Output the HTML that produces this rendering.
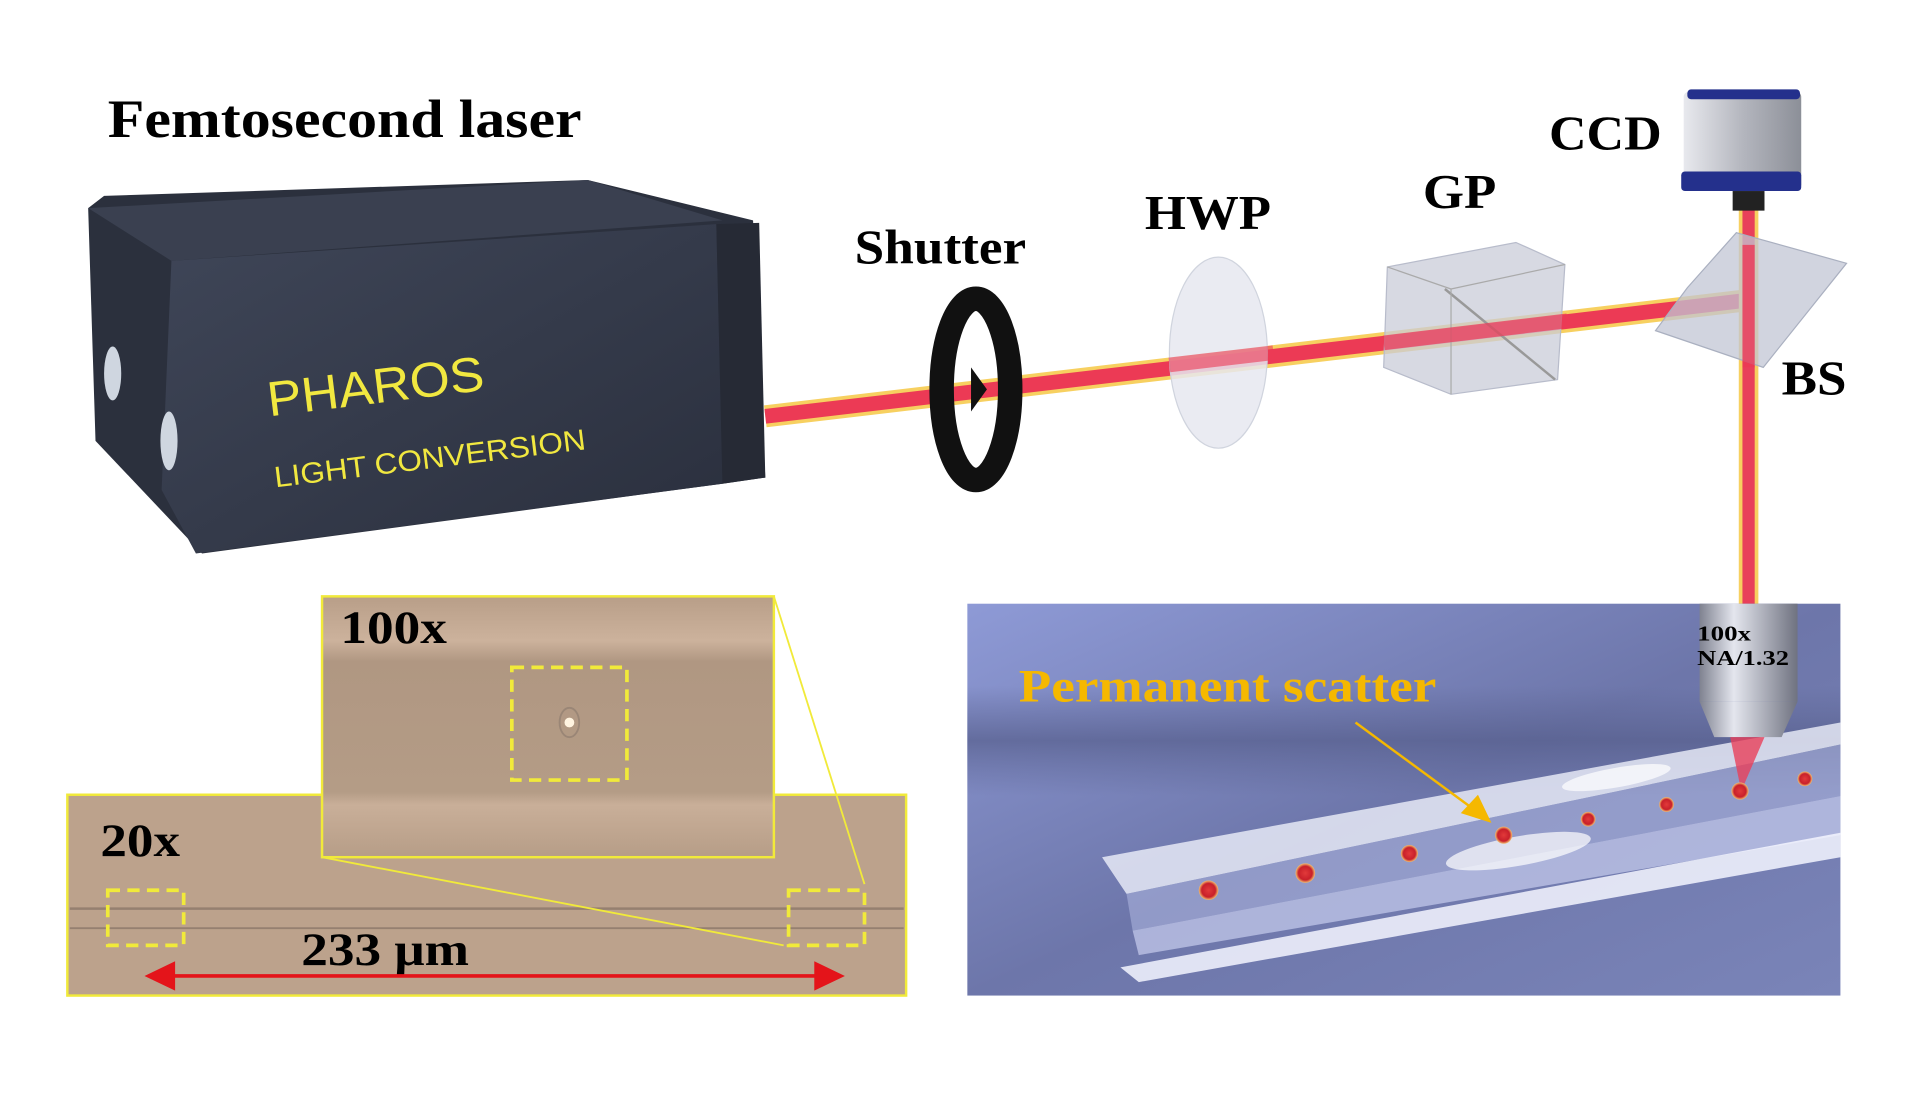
<!DOCTYPE html>
<html><head><meta charset="utf-8"><style>
html,body{margin:0;padding:0;background:#fff;width:1920px;height:1107px;overflow:hidden}
svg{display:block}
text{font-family:"Liberation Serif",serif;font-weight:bold}
</style></head><body>
<svg width="1920" height="1107" viewBox="0 0 1568 904" preserveAspectRatio="none">
<defs>
<linearGradient id="box" x1="0" y1="0" x2="1" y2="1"><stop offset="0" stop-color="#3f4658"/><stop offset="1" stop-color="#2a2f3d"/></linearGradient>
<linearGradient id="blue" x1="0" y1="0" x2="1" y2="1"><stop offset="0" stop-color="#8e9ad6"/><stop offset="0.5" stop-color="#6d76aa"/><stop offset="1" stop-color="#7a84b8"/></linearGradient>
<linearGradient id="band" x1="0" y1="0" x2="0" y2="1"><stop offset="0" stop-color="#5a6290" stop-opacity="0"/><stop offset="0.5" stop-color="#565e8c" stop-opacity="0.7"/><stop offset="1" stop-color="#5a6290" stop-opacity="0"/></linearGradient>
<linearGradient id="obj" x1="0" y1="0" x2="1" y2="0"><stop offset="0" stop-color="#7f8290"/><stop offset="0.35" stop-color="#e4e6ee"/><stop offset="1" stop-color="#6f7280"/></linearGradient>
<linearGradient id="ccd" x1="0" y1="0" x2="1" y2="0"><stop offset="0" stop-color="#e8e9ee"/><stop offset="0.5" stop-color="#b4b6be"/><stop offset="1" stop-color="#8c8f98"/></linearGradient>
<linearGradient id="tan100" x1="0" y1="0" x2="0" y2="1"><stop offset="0" stop-color="#b89e88"/><stop offset="0.17" stop-color="#ccb29c"/><stop offset="0.25" stop-color="#b09782"/><stop offset="0.75" stop-color="#b49c86"/><stop offset="0.8" stop-color="#c9af99"/><stop offset="1" stop-color="#b69d87"/></linearGradient>
<radialGradient id="dot"><stop offset="0" stop-color="#e23a3a"/><stop offset="0.7" stop-color="#c8202a"/><stop offset="1" stop-color="#f3c070"/></radialGradient>
</defs>

<text x="88" y="112" font-size="44" textLength="387" lengthAdjust="spacingAndGlyphs">Femtosecond laser</text>

<!-- laser box -->
<polygon points="72,170 85,160 480,147 615,180 625,390 590,395 165,452 78,360" fill="#2b303d"/>
<polygon points="72,170 480,147 590,180 140,213" fill="#3a4050"/>
<polygon points="140,213 585,183 590,395 160,452 132,400" fill="url(#box)"/>
<polygon points="585,183 620,182 625,390 590,395" fill="#262a35"/>
<ellipse cx="92" cy="305" rx="7" ry="22" fill="#cfd6e0"/>
<ellipse cx="138" cy="360" rx="7" ry="24" fill="#cfd6e0"/>
<text x="220" y="340" font-size="40" fill="#f1e840" textLength="178" lengthAdjust="spacingAndGlyphs" transform="rotate(-7 220 340)" style="font-family:'Liberation Sans',sans-serif;font-weight:normal">PHAROS</text>
<text x="225" y="398" font-size="24" fill="#f1e840" textLength="256" lengthAdjust="spacingAndGlyphs" transform="rotate(-7 225 398)" style="font-family:'Liberation Sans',sans-serif;font-weight:normal">LIGHT CONVERSION</text>

<!-- beams -->
<line x1="625" y1="340" x2="1428" y2="245" stroke="#f7d060" stroke-width="18"/>
<line x1="625" y1="340" x2="1428" y2="245" stroke="#ec3a55" stroke-width="12"/>
<line x1="1428" y1="160" x2="1428" y2="495" stroke="#f7d060" stroke-width="16"/>
<line x1="1428" y1="160" x2="1428" y2="495" stroke="#e8405a" stroke-width="10"/>

<!-- shutter -->
<ellipse cx="797" cy="318" rx="28" ry="74" fill="none" stroke="#111" stroke-width="20"/>
<path d="M793 300 L806 318 L793 336 Z" fill="#111"/>
<text x="698" y="215" font-size="40" textLength="140" lengthAdjust="spacingAndGlyphs">Shutter</text>

<!-- HWP -->
<ellipse cx="995" cy="288" rx="40" ry="78" fill="#e6e8f0" fill-opacity="0.85" stroke="#d0d4de"/>
<line x1="955" y1="298" x2="1040" y2="288" stroke="#ec3a55" stroke-width="12" opacity="0.6"/>
<text x="935" y="187" font-size="40" textLength="103" lengthAdjust="spacingAndGlyphs">HWP</text>

<!-- GP -->
<polygon points="1133,218 1238,198 1278,216 1272,310 1185,322 1130,300" fill="#c9ccd8" fill-opacity="0.75" stroke="#b8bccb"/>
<line x1="1180" y1="236" x2="1270" y2="310" stroke="#999" stroke-width="2"/>
<line x1="1133" y1="218" x2="1185" y2="236" stroke="#aaa"/>
<line x1="1185" y1="236" x2="1278" y2="216" stroke="#aaa"/>
<line x1="1185" y1="236" x2="1185" y2="322" stroke="#aaa"/>
<line x1="1130" y1="280" x2="1280" y2="262" stroke="#ec3a55" stroke-width="12" opacity="0.7"/>
<text x="1162" y="170" font-size="40" textLength="60" lengthAdjust="spacingAndGlyphs">GP</text>

<!-- BS -->
<polygon points="1378,235 1418,190 1508,215 1440,300 1352,270" fill="#c2c6d4" fill-opacity="0.75" stroke="#aab0c0"/>
<line x1="1428" y1="200" x2="1428" y2="300" stroke="#ec3a55" stroke-width="10" opacity="0.8"/>
<text x="1455" y="322" font-size="40" textLength="53" lengthAdjust="spacingAndGlyphs">BS</text>

<!-- CCD -->
<rect x="1375" y="75" width="96" height="80" rx="4" fill="url(#ccd)"/>
<rect x="1378" y="73" width="92" height="8" rx="3" fill="#24308c"/>
<rect x="1373" y="140" width="98" height="16" rx="3" fill="#24308c"/>
<rect x="1415" y="156" width="26" height="16" fill="#222"/>
<text x="1265" y="122" font-size="40" textLength="92" lengthAdjust="spacingAndGlyphs">CCD</text>

<!-- 20x panel -->
<rect x="55" y="649" width="685" height="164" fill="#bca28c" stroke="#f1ea3a" stroke-width="2"/>
<line x1="57" y1="742" x2="738" y2="742" stroke="#958070" stroke-width="2"/>
<line x1="57" y1="758" x2="738" y2="758" stroke="#958070" stroke-width="1.5"/>
<text x="82" y="699" font-size="38" textLength="65" lengthAdjust="spacingAndGlyphs">20x</text>
<rect x="88" y="727" width="62" height="45" fill="none" stroke="#f1ea3a" stroke-width="3" stroke-dasharray="10,6"/>
<rect x="644" y="727" width="62" height="45" fill="none" stroke="#f1ea3a" stroke-width="3" stroke-dasharray="10,6"/>
<text x="246" y="788" font-size="38" textLength="137" lengthAdjust="spacingAndGlyphs">233 μm</text>
<line x1="140" y1="797" x2="668" y2="797" stroke="#e4141a" stroke-width="3"/>
<polygon points="118,797 143,785 143,809" fill="#e4141a"/>
<polygon points="690,797 665,785 665,809" fill="#e4141a"/>

<!-- 100x panel -->
<rect x="263" y="487" width="369" height="213" fill="url(#tan100)" stroke="#f1ea3a" stroke-width="2"/>
<text x="278" y="525" font-size="38" textLength="87" lengthAdjust="spacingAndGlyphs">100x</text>
<rect x="418" y="545" width="94" height="92" fill="none" stroke="#f1ea3a" stroke-width="3" stroke-dasharray="10,6"/>
<ellipse cx="465" cy="590" rx="8" ry="12" fill="none" stroke="#9a8676" stroke-width="1.5"/>
<circle cx="465" cy="590" r="4" fill="#fff4e0"/>
<line x1="632" y1="487" x2="706" y2="722" stroke="#f1ea3a" stroke-width="1.5"/>
<line x1="263" y1="700" x2="640" y2="772" stroke="#f1ea3a" stroke-width="1.5"/>

<!-- blue panel -->
<rect x="790" y="493" width="713" height="320" fill="url(#blue)"/>
<rect x="790" y="560" width="713" height="90" fill="url(#band)"/>
<polygon points="900,700 1503,590 1503,608 920,730" fill="#eef0fa" fill-opacity="0.8"/>
<polygon points="920,730 1503,608 1503,650 925,760" fill="#aab2dc" fill-opacity="0.6"/>
<polygon points="925,760 1503,650 1503,682 930,780" fill="#c8cdee" fill-opacity="0.7"/>
<polygon points="915,790 1503,680 1503,700 930,802" fill="#f4f6ff" fill-opacity="0.85"/>
<ellipse cx="1240" cy="695" rx="60" ry="12" fill="#fff" opacity="0.7" transform="rotate(-10 1240 695)"/>
<ellipse cx="1320" cy="635" rx="45" ry="8" fill="#fff" opacity="0.7" transform="rotate(-10 1320 635)"/>
<rect x="1388" y="493" width="80" height="80" fill="url(#obj)"/>
<polygon points="1388,573 1468,573 1455,602 1400,602" fill="url(#obj)"/>
<polygon points="1413,602 1441,602 1422,646" fill="#e8405a" opacity="0.8"/>
<text x="1386" y="523" font-size="17" textLength="44" lengthAdjust="spacingAndGlyphs">100x</text>
<text x="1386" y="543" font-size="17" textLength="75" lengthAdjust="spacingAndGlyphs">NA/1.32</text>
<text x="832" y="573" font-size="38" fill="#f5b800" textLength="341" lengthAdjust="spacingAndGlyphs">Permanent scatter</text>
<line x1="1107" y1="590" x2="1205" y2="662" stroke="#f5b800" stroke-width="2"/>
<polygon points="1218,672 1193,664 1207,649" fill="#f5b800"/>
<g fill="url(#dot)">
<circle cx="987" cy="727" r="8"/><circle cx="1066" cy="713" r="8"/><circle cx="1151" cy="697" r="7"/>
<circle cx="1228" cy="682" r="7"/><circle cx="1297" cy="669" r="6"/><circle cx="1361" cy="657" r="6"/>
<circle cx="1421" cy="646" r="7"/><circle cx="1474" cy="636" r="6"/>
</g>
</svg>
</body></html>
